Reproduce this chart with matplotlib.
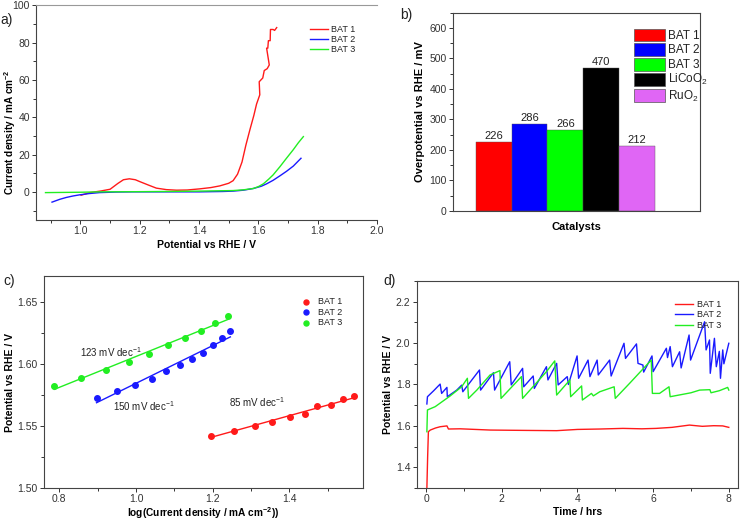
import numpy as np
import matplotlib
matplotlib.use("Agg")
import matplotlib.pyplot as plt
import matplotlib.patches as mpatches
from matplotlib.ticker import MultipleLocator

plt.rcParams['font.family'] = ['Liberation Sans', 'DejaVu Sans']
plt.rcParams['mathtext.default'] = 'regular'
plt.rcParams['text.color'] = '#222222'
plt.rcParams['xtick.color'] = '#333333'
plt.rcParams['ytick.color'] = '#333333'

# a) LSV curves
a_v1 = [1.002, 1.032, 1.07, 1.10, 1.126, 1.145, 1.165, 1.185, 1.20, 1.23, 1.256, 1.29, 1.324, 1.36, 1.402,
        1.44, 1.47, 1.50, 1.515, 1.53, 1.545, 1.558, 1.572, 1.585, 1.594, 1.605, 1.603, 1.615, 1.62, 1.63,
        1.637, 1.628, 1.632, 1.634, 1.64, 1.641, 1.65, 1.655, 1.662]
a_j1 = [-1.8, -0.4, 0.5, 1.4, 4.5, 6.5, 7.0, 6.5, 5.5, 3.6, 2.0, 1.2, 0.9, 1.0, 1.6,
        2.3, 3.2, 4.6, 6.0, 9.5, 16, 25, 33.5, 41, 47, 52, 59, 61, 65, 66,
        68, 77, 77, 81, 81, 87, 87, 86.5, 88]
a_v2 = [0.904, 0.93, 0.952, 0.975, 0.997, 1.03, 1.064, 1.12, 1.177, 1.30, 1.40, 1.48, 1.515, 1.55,
        1.583, 1.61, 1.628, 1.65, 1.673, 1.695, 1.718, 1.744]
a_j2 = [-5.5, -4.0, -3.0, -2.2, -1.6, -0.9, -0.4, -0.1, 0.0, 0.0, 0.0, 0.2, 0.4, 0.9,
        1.8, 3.0, 4.3, 6.2, 8.6, 11.0, 13.8, 18.0]
a_v3 = [0.882, 1.0, 1.064, 1.20, 1.29, 1.40, 1.515, 1.55, 1.583, 1.60, 1.617, 1.635, 1.65, 1.673,
        1.695, 1.718, 1.735, 1.752]
a_j3 = [-0.4, -0.2, 0.0, 0.1, 0.2, 0.4, 0.7, 1.1, 1.8, 2.8, 4.3, 6.8, 9.1, 13.5,
        18.0, 22.6, 26.3, 29.6]

# b) overpotential
b_names = ['BAT 1', 'BAT 2', 'BAT 3', 'LiCoO$_2$', 'RuO$_2$']
b_vals = [226, 286, 266, 470, 212]
b_colors = ['#ff0000', '#0000ff', '#00ff00', '#000000', '#e066f5']

# c) Tafel
c_x1 = [1.196, 1.255, 1.310, 1.354, 1.402, 1.441, 1.471, 1.509, 1.541, 1.569]
c_y1 = [1.542, 1.546, 1.550, 1.553, 1.557, 1.560, 1.566, 1.567, 1.572, 1.574]
c_x2 = [0.898, 0.950, 0.997, 1.041, 1.078, 1.115, 1.146, 1.174, 1.202, 1.224, 1.246]
c_y2 = [1.573, 1.578, 1.583, 1.588, 1.594, 1.599, 1.604, 1.609, 1.615, 1.621, 1.627]
c_x3 = [0.786, 0.857, 0.922, 0.982, 1.035, 1.083, 1.129, 1.169, 1.206, 1.240]
c_y3 = [1.582, 1.589, 1.595, 1.602, 1.608, 1.615, 1.621, 1.627, 1.633, 1.639]
# fitted lines (end points)
c_fx1, c_fy1 = [1.197, 1.571], [1.541, 1.573]
c_fx2, c_fy2 = [0.897, 1.246], [1.5688, 1.6219]
c_fx3, c_fy3 = [0.787, 1.240], [1.5796, 1.636]
c_slopes = ['85 mV dec$^{-1}$', '150 mV dec$^{-1}$', '123 mV dec$^{-1}$']

# d) stability
d_t1 = [0.02, 0.04, 0.06, 0.11, 0.25, 0.37, 0.55, 0.59, 0.9, 1.3, 1.69, 2.2, 2.8, 3.45, 4.0, 4.6,
        5.2, 5.7, 6.08, 6.5, 6.96, 7.3, 7.6, 7.84, 8.0]
d_v1 = [1.30, 1.45, 1.572, 1.580, 1.590, 1.596, 1.600, 1.585, 1.586, 1.583, 1.580, 1.579, 1.578,
        1.577, 1.583, 1.585, 1.588, 1.586, 1.588, 1.593, 1.604, 1.598, 1.601, 1.600, 1.593]
d_t2 = [0.02, 0.035, 0.20, 0.37, 0.41, 0.55, 0.56, 0.81, 0.94, 0.97, 1.41, 1.44, 1.78, 1.81, 2.21,
        2.25, 2.55, 2.58, 2.83, 2.86, 3.18, 3.22, 3.45, 3.49, 3.73, 3.76, 3.99, 4.03, 4.28, 4.33,
        4.52, 4.55, 4.85, 4.89, 5.23, 5.27, 5.56, 5.60, 5.73, 5.75, 5.97, 6.0, 6.35, 6.38, 6.45,
        6.51, 6.70, 6.74, 6.95, 6.99, 7.36, 7.40, 7.49, 7.51, 7.62, 7.67, 7.75, 7.78, 7.84, 7.87,
        8.0]
d_v2 = [1.706, 1.741, 1.770, 1.802, 1.757, 1.786, 1.741, 1.773, 1.797, 1.765, 1.870, 1.773,
        1.857, 1.773, 1.910, 1.798, 1.878, 1.789, 1.841, 1.781, 1.886, 1.822, 1.902, 1.798,
        1.838, 1.800, 1.938, 1.830, 1.918, 1.838, 1.918, 1.846, 1.918, 1.841, 1.999, 1.926,
        1.996, 1.902, 1.894, 1.860, 1.938, 1.862, 1.975, 1.930, 1.983, 1.886, 1.958, 1.880,
        2.039, 1.918, 2.103, 1.967, 2.015, 1.854, 2.023, 1.886, 1.960, 1.830, 1.967, 1.900,
        1.999]
d_t3 = [0.02, 0.035, 0.24, 0.63, 0.94, 1.09, 1.12, 1.34, 1.69, 1.95, 1.98, 2.52, 2.55, 3.18,
        3.40, 3.45, 3.80, 3.82, 4.11, 4.13, 4.37, 4.42, 4.59, 4.97, 5.0, 5.38, 5.95, 5.98, 6.17,
        6.42, 6.45, 7.0, 7.23, 7.50, 7.53, 7.75, 7.97, 8.0]
d_v3 = [1.572, 1.677, 1.693, 1.744, 1.789, 1.830, 1.733, 1.773, 1.846, 1.867, 1.733, 1.838,
        1.733, 1.862, 1.914, 1.749, 1.822, 1.741, 1.793, 1.725, 1.757, 1.745, 1.765, 1.789,
        1.733, 1.806, 1.918, 1.757, 1.757, 1.789, 1.741, 1.760, 1.773, 1.775, 1.760, 1.770,
        1.786, 1.773]

red, blue, green = '#ff1a1a', '#1a1aff', '#22ee22'
spine_c = '#444444'


def style(ax, box=True):
    for s in ax.spines.values():
        s.set_color(spine_c)
        s.set_linewidth(0.8)
    if not box:
        ax.spines['right'].set_visible(False)
        ax.spines['top'].set_color('#999999')
    ax.tick_params(which='both', direction='out', labelsize=7.5, width=0.7, pad=1.5)
    ax.tick_params(which='major', length=3)
    ax.tick_params(which='minor', length=2)
    ax.tick_params(top=False, right=False)


fig = plt.figure(figsize=(7.41, 5.21), dpi=100)

# ---------------- a)
ax1 = fig.add_axes([0.0486, 0.578, 0.460, 0.412])
ax1.plot(a_v1, a_j1, color=red, lw=1.0, label='BAT 1')
ax1.plot(a_v2, a_j2, color=blue, lw=1.0, label='BAT 2')
ax1.plot(a_v3, a_j3, color=green, lw=1.0, label='BAT 3')
ax1.set_xlim(0.85, 2.0)
ax1.set_ylim(-15, 100)
ax1.xaxis.set_major_locator(MultipleLocator(0.2))
ax1.xaxis.set_minor_locator(MultipleLocator(0.1))
ax1.yaxis.set_major_locator(MultipleLocator(20))
ax1.yaxis.set_minor_locator(MultipleLocator(10))
style(ax1, box=False)
ax1.set_xlabel('Potential vs RHE / V', fontsize=7.5, fontweight='bold', labelpad=3)
ax1.set_ylabel('Current density / mA cm$^{-2}$', fontsize=7.2, fontweight='bold')
ax1.yaxis.set_label_coords(-0.054, 0.41)
ax1.legend(loc='upper left', bbox_to_anchor=(0.79, 0.93), frameon=False, fontsize=6.5,
           handlelength=2.0, handletextpad=0.4, labelspacing=0.15, borderpad=0)

# ---------------- b)
ax2 = fig.add_axes([0.611, 0.595, 0.3337, 0.3806])
pos = np.arange(1, len(b_vals) + 1)
bars = ax2.bar(pos, b_vals, width=1.0, color=b_colors, edgecolor='#555555', linewidth=0.3)
for b, v in zip(bars, b_vals):
    ax2.text(b.get_x() + b.get_width() / 2, v + 3, str(v), ha='center', va='bottom', fontsize=8)
ax2.set_xlim(-0.14, 6.75)
ax2.set_ylim(0, 650)
ax2.set_xticks([])
ax2.yaxis.set_major_locator(MultipleLocator(100))
ax2.yaxis.set_minor_locator(MultipleLocator(50))
style(ax2)
ax2.set_xlabel('Catalysts', fontsize=8, fontweight='bold', labelpad=8)
ax2.set_ylabel('Overpotential vs RHE / mV', fontsize=8, fontweight='bold', labelpad=3)
handles = [mpatches.Patch(facecolor=c, edgecolor='#555555', linewidth=0.5, label=n)
           for c, n in zip(b_colors, b_names)]
ax2.legend(handles=handles, loc='upper left', bbox_to_anchor=(0.71, 0.95), frameon=False,
           fontsize=8.5, handlelength=2.6, handleheight=1.3, handletextpad=0.3,
           labelspacing=0.1, borderpad=0)

# ---------------- c)
ax3 = fig.add_axes([0.0594, 0.0633, 0.4305, 0.4069])
ax3.plot(c_fx1, c_fy1, color=red, lw=1.0)
ax3.plot(c_fx2, c_fy2, color=blue, lw=1.0)
ax3.plot(c_fx3, c_fy3, color=green, lw=1.0)
ax3.scatter(c_x1, c_y1, s=16, color=red, label='BAT 1', zorder=3)
ax3.scatter(c_x2, c_y2, s=16, color=blue, label='BAT 2', zorder=3)
ax3.scatter(c_x3, c_y3, s=16, color=green, label='BAT 3', zorder=3)
ax3.text(1.243, 1.569, c_slopes[0], fontsize=7, va='center')
ax3.text(0.941, 1.566, c_slopes[1], fontsize=7, va='center')
ax3.text(0.854, 1.610, c_slopes[2], fontsize=7, va='center')
ax3.set_xlim(0.76, 1.592)
ax3.set_ylim(1.50, 1.671)
ax3.xaxis.set_major_locator(MultipleLocator(0.2))
ax3.xaxis.set_minor_locator(MultipleLocator(0.1))
ax3.yaxis.set_major_locator(MultipleLocator(0.05))
ax3.yaxis.set_minor_locator(MultipleLocator(0.025))
style(ax3)
ax3.set_xlabel('log(Current density / mA cm$^{-2}$))', fontsize=7.3, fontweight='bold')
ax3.xaxis.set_label_coords(0.5, -0.083)
ax3.set_ylabel('Potential vs RHE / V', fontsize=7.5, fontweight='bold', labelpad=2)
ax3.legend(loc='upper left', bbox_to_anchor=(0.78, 0.92), frameon=False, fontsize=6.5,
           handletextpad=0.3, labelspacing=0.15, borderpad=0, markerscale=0.9)

# ---------------- d)
ax4 = fig.add_axes([0.5623, 0.0633, 0.434, 0.3974])
ax4.plot(d_t1, d_v1, color=red, lw=1.0, label='BAT 1')
ax4.plot(d_t2, d_v2, color=blue, lw=1.0, label='BAT 2')
ax4.plot(d_t3, d_v3, color=green, lw=1.0, label='BAT 3')
ax4.set_xlim(-0.25, 8.25)
ax4.set_ylim(1.3, 2.3)
ax4.xaxis.set_major_locator(MultipleLocator(2))
ax4.xaxis.set_minor_locator(MultipleLocator(1))
ax4.yaxis.set_major_locator(MultipleLocator(0.2))
ax4.yaxis.set_minor_locator(MultipleLocator(0.1))
style(ax4)
ax4.set_xlabel('Time / hrs', fontsize=7.5, fontweight='bold', labelpad=2)
ax4.set_ylabel('Potential vs RHE / V', fontsize=7.5, fontweight='bold', labelpad=2)
ax4.legend(loc='upper left', bbox_to_anchor=(0.79, 0.93), frameon=False, fontsize=6.5,
           handlelength=2.0, handletextpad=0.4, labelspacing=0.15, borderpad=0)

# panel letters
fig.text(0.0, 0.975, 'a)', fontsize=10, va='top')
fig.text(0.540, 0.985, 'b)', fontsize=10, va='top')
fig.text(0.005, 0.475, 'c)', fontsize=10, va='top')
fig.text(0.517, 0.475, 'd)', fontsize=10, va='top')

fig.savefig('out.png', dpi=100)
